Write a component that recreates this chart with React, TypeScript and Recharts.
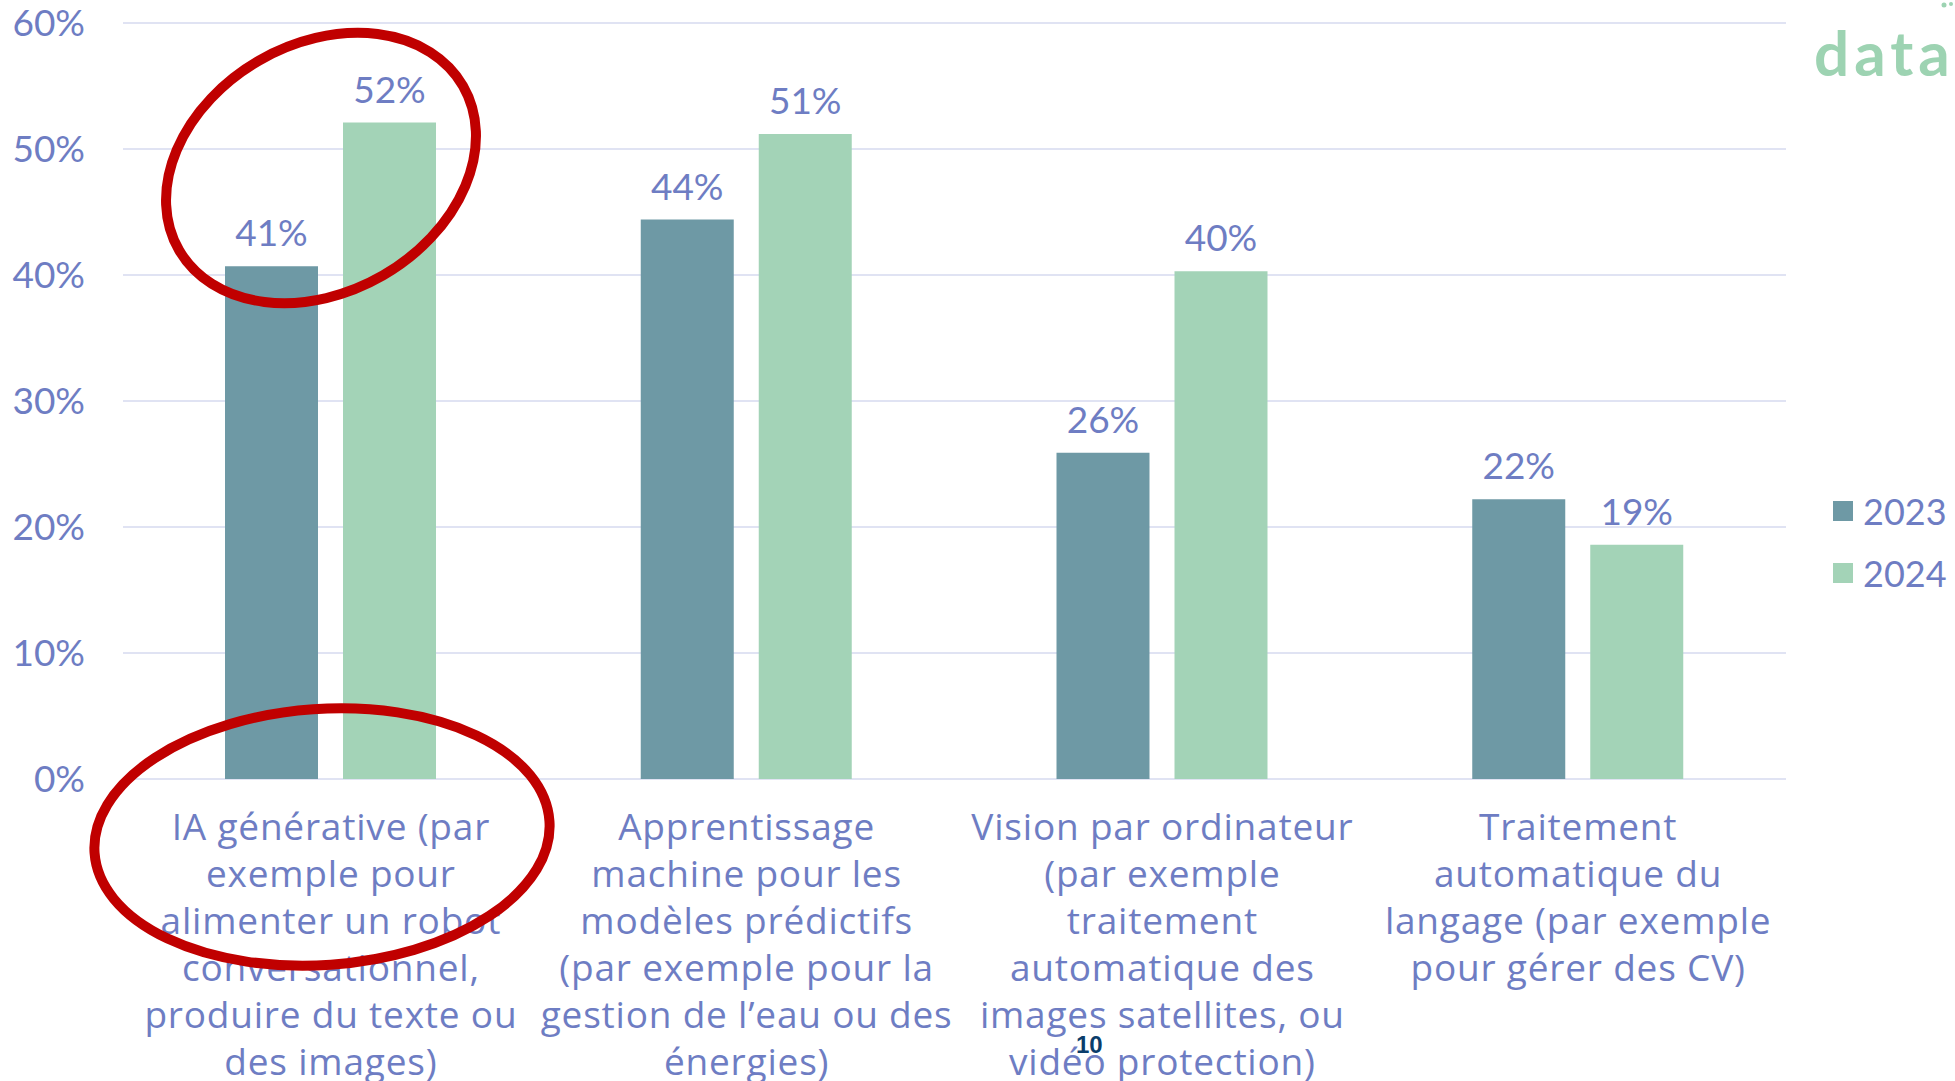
import { BarChart, Bar, XAxis, YAxis, CartesianGrid, LabelList } from 'recharts';

const categories = [
  'IA générative',
  'Apprentissage machine',
  'Vision par ordinateur',
  'Traitement automatique du langage',
];

const categoryLines = [
  ['IA générative (par', 'exemple pour', 'alimenter un robot', 'conversationnel,', 'produire du texte ou', 'des images)'],
  ['Apprentissage', 'machine pour les', 'modèles prédictifs', '(par exemple pour la', 'gestion de l’eau ou des', 'énergies)'],
  ['Vision par ordinateur', '(par exemple', 'traitement', 'automatique des', 'images satellites, ou', 'vidéo protection)'],
  ['Traitement', 'automatique du', 'langage (par exemple', 'pour gérer des CV)'],
];

const values2023 = [40.7, 44.4, 25.9, 22.2];
const values2024 = [52.1, 51.2, 40.3, 18.6];

const yTicks = [0, 10, 20, 30, 40, 50, 60];

const seriesNames = ['2023', '2024'];
const seriesColors = ['#6e99a5', '#a3d3b7'];

const data = categories.map((name, i) => ({
  name,
  v2023: values2023[i],
  v2024: values2024[i],
}));

const TEXT_COLOR = '#6e7dc3';
const FONT = 'Lato, "Open Sans", sans-serif';
const LABEL_FONT = '"Open Sans", Lato, sans-serif';

function CategoryTick(props: any) {
  const { x, y, payload } = props;
  const lines = categoryLines[payload.index] || [];
  return (
    <text x={x} y={y} textAnchor="middle" fill={TEXT_COLOR} fontSize={37} letterSpacing={0.8} fontFamily={LABEL_FONT}>
      {lines.map((line, i) => (
        <tspan key={i} x={x} dy={i === 0 ? 61 : 47}>
          {line}
        </tspan>
      ))}
    </text>
  );
}

export default function App() {
  return (
    <div style={{ position: 'absolute', left: 0, top: 0, width: 1955, height: 1081, background: '#fff', overflow: 'hidden' }}>
      <BarChart
        width={1955}
        height={1081}
        data={data}
        margin={{ top: 23, right: 169, bottom: 0, left: 0 }}
        barGap={25}
        barCategoryGap={102}
      >
        <CartesianGrid vertical={false} stroke="#e0e3f3" strokeWidth={2} />
        <XAxis
          dataKey="name"
          axisLine={false}
          tickLine={false}
          tickSize={0}
          tickMargin={0}
          height={302}
          interval={0}
          tick={<CategoryTick />}
        />
        <YAxis
          domain={[0, 60]}
          ticks={yTicks}
          width={123}
          axisLine={false}
          tickLine={false}
          tickSize={0}
          tickMargin={38}
          tickFormatter={(v) => `${v}%`}
          tick={{ fill: TEXT_COLOR, fontSize: 37, fontFamily: FONT }}
        />
        <Bar dataKey="v2023" name={seriesNames[0]} fill={seriesColors[0]} barSize={93} isAnimationActive={false}>
          <LabelList
            dataKey="v2023"
            position="top"
            offset={20}
            formatter={(v: any) => `${Math.round(v)}%`}
            style={{ fill: TEXT_COLOR, fontSize: 37, fontFamily: FONT }}
          />
        </Bar>
        <Bar dataKey="v2024" name={seriesNames[1]} fill={seriesColors[1]} barSize={93} isAnimationActive={false}>
          <LabelList
            dataKey="v2024"
            position="top"
            offset={20}
            formatter={(v: any) => `${Math.round(v)}%`}
            style={{ fill: TEXT_COLOR, fontSize: 37, fontFamily: FONT }}
          />
        </Bar>
      </BarChart>

      {/* legend */}
      <div style={{ position: 'absolute', left: 1833, top: 480, fontFamily: FONT }}>
        {seriesNames.map((name, i) => (
          <div key={name} style={{ display: 'flex', alignItems: 'center', height: 62 }}>
            <div style={{ width: 20, height: 20, background: seriesColors[i], marginRight: 10 }} />
            <span style={{ fontSize: 36, color: TEXT_COLOR }}>{name}</span>
          </div>
        ))}
      </div>

      {/* logo + page number + hand-drawn annotations */}
      <svg width={1955} height={1081} style={{ position: 'absolute', left: 0, top: 0, pointerEvents: 'none' }}>
        <text x={1814} y={76} fill="#9dd3b2" fontSize={62} fontWeight={700} fontFamily={FONT} letterSpacing={5}>
          data
        </text>
        <circle cx={1944} cy={5} r={2.5} fill="#9dd3b2" />
        <circle cx={1951} cy={4} r={2} fill="#9dd3b2" />
        <text x={1076} y={1053} fill="#0b3d6b" fontSize={24} fontWeight={700} fontFamily="Liberation Sans Narrow, Liberation Sans, sans-serif">
          10
        </text>
        <ellipse cx={321} cy={168} rx={164} ry={124} transform="rotate(-30 321 168)" fill="none" stroke="#c00000" strokeWidth={10} />
        <ellipse cx={322} cy={837} rx={228} ry={128} transform="rotate(-4 322 837)" fill="none" stroke="#c00000" strokeWidth={10} />
      </svg>
    </div>
  );
}
